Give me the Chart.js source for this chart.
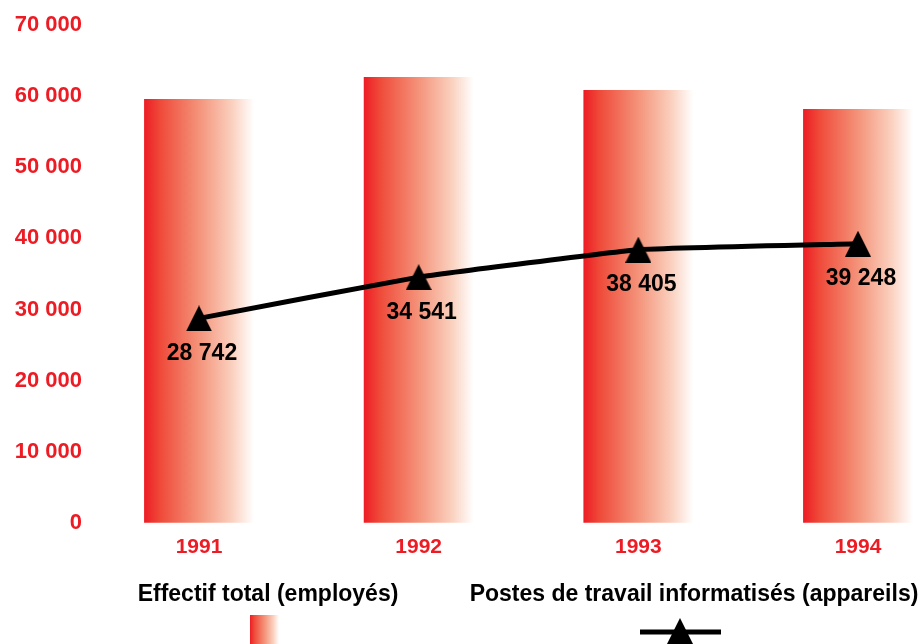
<!DOCTYPE html>
<html>
<head>
<meta charset="utf-8">
<script src="https://cdn.jsdelivr.net/npm/chart.js@4/dist/chart.umd.min.js"></script>
<style>
  body { margin: 0; background: #fff; overflow: hidden; }
  canvas { display: block; }
</style>
</head>
<body>
<canvas id="chart" width="923" height="644"></canvas>
<script>
// data
const years = ['1991', '1992', '1993', '1994'];
const employees = [59600, 62700, 60850, 58200];      // Effectif total (employés)
const workstations = [28742, 34541, 38405, 39248];   // Postes de travail informatisés
const yTicks = [0, 10000, 20000, 30000, 40000, 50000, 60000, 70000];

const RED = '#ED1C24';
const FONT = '"Liberation Sans", Arial, sans-serif';

// 28742 -> "28 742"
function spaced(v) {
    return String(v).replace(/\B(?=(\d{3})+(?!\d))/g, ' ');
}

function redFade(ctx, x0, x1) {
    const g = ctx.createLinearGradient(x0, 0, x1, 0);
    g.addColorStop(0, RED);
    g.addColorStop(0.15, '#EF4B3A');
    g.addColorStop(0.5, '#F4937A');
    g.addColorStop(0.8, '#FAD0BE');
    g.addColorStop(1, '#FFFFFF');
    return g;
}

// triangle marker, centred on the data point
const tri = document.createElement('canvas');
tri.width = 26;
tri.height = 26;
(function () {
    const c = tri.getContext('2d');
    c.fillStyle = '#000';
    c.beginPath();
    c.moveTo(13, 0);
    c.lineTo(26, 26);
    c.lineTo(0, 26);
    c.closePath();
    c.fill();
})();

// gradient per bar, worked out from the x scale
function barFill(context) {
    const chart = context.chart;
    const xs = chart.scales.x;
    if (!xs || context.dataIndex === undefined) return RED;
    const step = xs.getPixelForValue(1) - xs.getPixelForValue(0);
    const half = step * 0.5 / 2;
    const cx = xs.getPixelForValue(context.dataIndex);
    if (!isFinite(cx) || !isFinite(half)) return RED;
    return redFade(chart.ctx, cx - half, cx + half);
}

// value labels under the triangles
const pointLabels = {
    id: 'pointLabels',
    afterDatasetsDraw(chart) {
        const ctx = chart.ctx;
        const meta = chart.getDatasetMeta(1);
        ctx.save();
        ctx.font = 'bold 23px ' + FONT;
        ctx.fillStyle = '#000';
        ctx.textAlign = 'center';
        ctx.textBaseline = 'middle';
        meta.data.forEach((pt, i) => {
            ctx.fillText(spaced(workstations[i]), pt.x + 3, pt.y + 35);
        });
        ctx.restore();
    }
};

// legend: caption on top, symbol underneath
const bottomLegend = {
    id: 'bottomLegend',
    afterDraw(chart) {
        const ctx = chart.ctx;
        const sets = chart.data.datasets;
        ctx.save();
        ctx.font = 'bold 23px ' + FONT;
        ctx.fillStyle = '#000';
        ctx.textAlign = 'center';
        ctx.textBaseline = 'middle';
        ctx.fillText(sets[0].label, 268, 595);
        ctx.fillText(sets[1].label, 694, 595);

        // bar swatch
        ctx.fillStyle = redFade(ctx, 250, 279);
        ctx.fillRect(250, 615, 29, 30);

        // line + triangle
        ctx.strokeStyle = '#000';
        ctx.lineWidth = 5;
        ctx.beginPath();
        ctx.moveTo(640, 632);
        ctx.lineTo(721, 632);
        ctx.stroke();
        ctx.drawImage(tri, 667, 618);
        ctx.restore();
    }
};

new Chart(document.getElementById('chart'), {
    data: {
        labels: years,
        datasets: [
            {
                type: 'bar',
                label: 'Effectif total (employés)',
                data: employees,
                backgroundColor: barFill,
                barPercentage: 0.5,
                categoryPercentage: 1,
                clip: false,
                order: 1
            },
            {
                type: 'line',
                label: 'Postes de travail informatisés (appareils)',
                data: workstations,
                borderColor: '#000',
                backgroundColor: '#000',
                borderWidth: 5,
                tension: 0.1,
                pointStyle: tri,
                pointRadius: 13,
                order: 0
            }
        ]
    },
    options: {
        responsive: false,
        animation: false,
        layout: { padding: { top: 25, right: 65, bottom: 72, left: 0 } },
        plugins: {
            legend: { display: false },
            tooltip: { enabled: false }
        },
        scales: {
            x: {
                offset: false,
                grid: { display: false, drawTicks: false },
                border: { display: false },
                ticks: {
                    color: RED,
                    font: { family: FONT, size: 21, weight: 'bold' },
                    padding: 12,
                    autoSkip: false,
                    maxRotation: 0
                }
            },
            y: {
                min: 0,
                max: 70000,
                afterBuildTicks(scale) {
                    scale.ticks = yTicks.map(v => ({ value: v }));
                },
                afterFit(scale) {
                    // wide axis box, labels stay at the far left
                    scale.width = 199;
                    scale.paddingTop = 12;
                    scale.paddingBottom = 12;
                },
                grid: { display: false, drawTicks: false },
                border: { display: false },
                ticks: {
                    color: RED,
                    font: { family: FONT, size: 22, weight: 'bold' },
                    padding: 117,
                    callback: v => spaced(v)
                }
            }
        }
    },
    plugins: [pointLabels, bottomLegend]
});
</script>
</body>
</html>
